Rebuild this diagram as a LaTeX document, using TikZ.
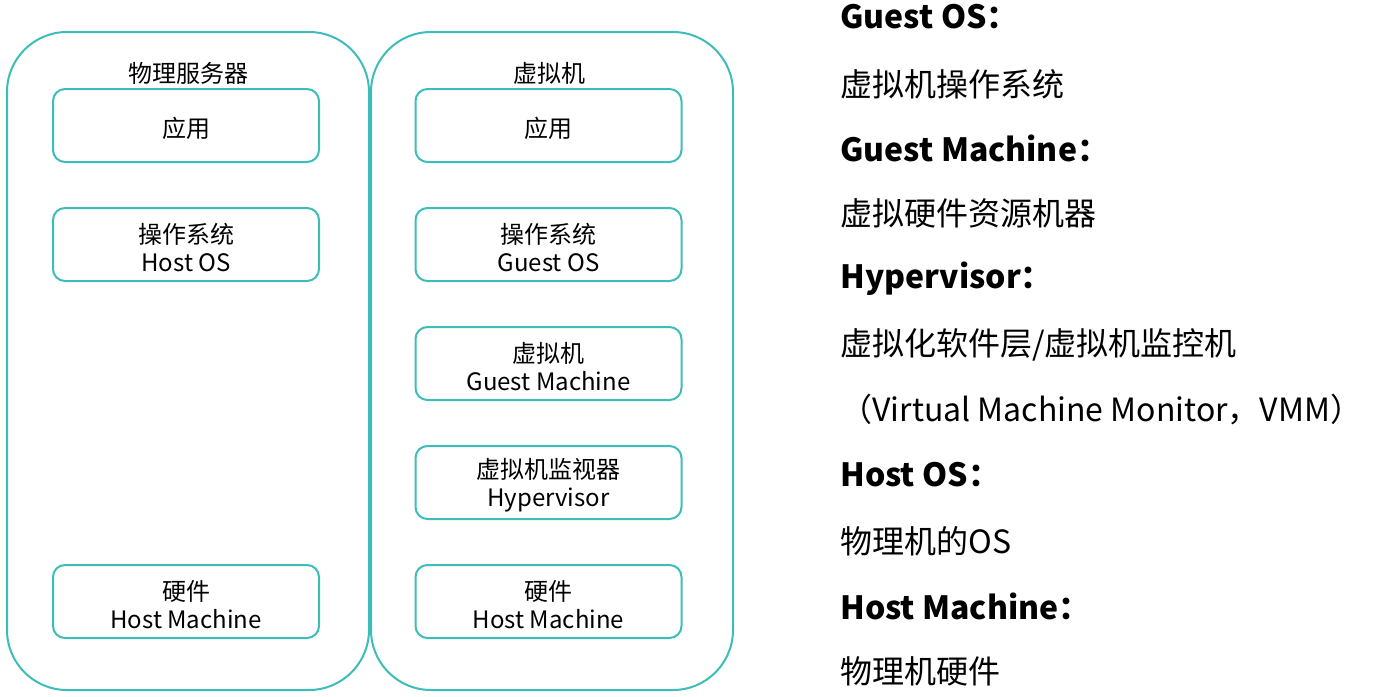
\documentclass[tikz,border=0pt]{standalone}
\usepackage{fontspec}
\setmainfont{Noto Sans CJK SC}
\definecolor{teal1}{HTML}{3DBDB9}
\newcommand\lowstrut{\rule{0pt}{13pt}}
\begin{document}
\begin{tikzpicture}[x=0.5pt,y=-0.5pt,
  outer/.style={draw=teal1,line width=1pt,rounded corners=30pt},
  layer/.style={draw=teal1,line width=1pt,rounded corners=6pt,minimum width=133pt,minimum height=36.5pt,align=center,font=\fontsize{12}{14}\selectfont,inner sep=0pt},
  ttl/.style={font=\fontsize{12}{14}\selectfont,inner sep=0pt},
  head/.style={anchor=west,inner sep=0pt,font=\fontsize{16}{18}\selectfont\bfseries},
  desc/.style={anchor=west,inner sep=0pt,font=\fontsize{16}{18}\selectfont}]
\useasboundingbox (0,0) rectangle (1378,697);
\draw[outer] (7,32) rectangle (369,690);
\draw[outer] (371,32) rectangle (733,690);
\node[ttl] (t1) at (188,73) {物理服务器};
\node[ttl] (t2) at (549,73) {虚拟机};
\node[layer] (la) at (186,125.5) {\lowstrut 应用};
\node[layer] (lo) at (186,244.5) {\lowstrut 操作系统\\Host OS};
\node[layer] (lh) at (186,601.5) {\lowstrut 硬件\\Host Machine};
\node[layer] (ra) at (548.5,125.5) {\lowstrut 应用};
\node[layer] (ro) at (548.5,244.5) {\lowstrut 操作系统\\Guest OS};
\node[layer] (rg) at (548.5,363.5) {\lowstrut 虚拟机\\Guest Machine};
\node[layer] (rv) at (548.5,482.5) {\lowstrut 虚拟机监视器\\Hypervisor};
\node[layer] (rh) at (548.5,601.5) {\lowstrut 硬件\\Host Machine};
\node[head] (h1) at (840,17) {Guest OS：};
\node[desc] (d1) at (840,84) {虚拟机操作系统};
\node[head] (h2) at (840,148) {Guest Machine：};
\node[desc] (d2) at (840,213) {虚拟硬件资源机器};
\node[head] (h3) at (840,279) {Hypervisor：};
\node[desc] (d3) at (840,345) {虚拟化软件层/虚拟机监控机};
\node[desc] (d4) at (840,410) {（Virtual Machine Monitor，VMM）};
\node[head] (h4) at (840,475) {Host OS：};
\node[desc] (d5) at (840,541) {物理机的OS};
\node[head] (h5) at (840,606) {Host Machine：};
\node[desc] (d6) at (840,671) {物理机硬件};
\end{tikzpicture}
\end{document}
